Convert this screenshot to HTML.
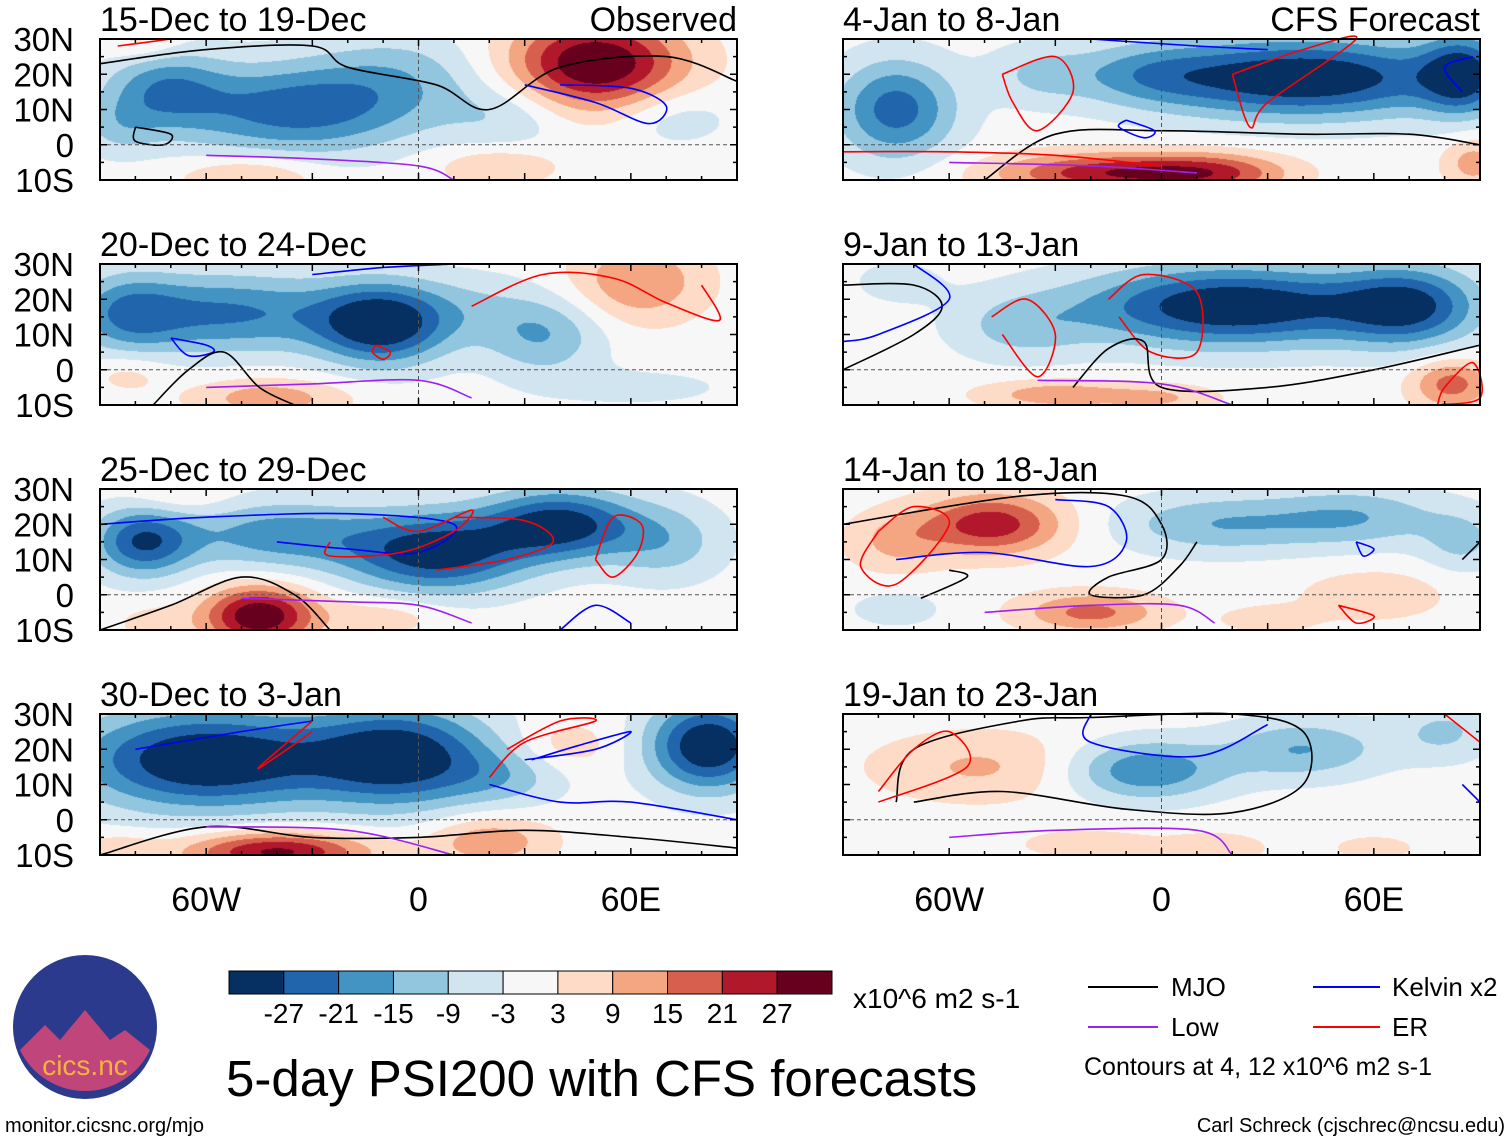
<!DOCTYPE html>
<html><head><meta charset="utf-8">
<style>
body{margin:0;background:#fff;width:1510px;height:1142px;overflow:hidden;font-family:"Liberation Sans",sans-serif;}
#fill{position:absolute;left:0;top:0;}
#ov{position:absolute;left:0;top:0;}
</style></head><body>
<canvas id="fill" width="1510" height="1142"></canvas>
<svg id="ov" width="1510" height="1142" xmlns="http://www.w3.org/2000/svg" font-family="Liberation Sans, sans-serif"></svg>
<script>
// ---- data ----
const panelTitles=["15-Dec to 19-Dec","20-Dec to 24-Dec","25-Dec to 29-Dec","30-Dec to 3-Jan","4-Jan to 8-Jan","9-Jan to 13-Jan","14-Jan to 18-Jan","19-Jan to 23-Jan"];
const latTicks=["30N","20N","10N","0","10S"];
const latVals=[30,20,10,0,-10];
const lonTicks=["60W","0","60E"];
const lonVals=[-60,0,60];
const levels=[-27,-21,-15,-9,-3,3,9,15,21,27];
const levelColors=["#053061","#2166ac","#4393c3","#92c5de","#d1e5f0","#f7f7f7","#fddbc7","#f4a582","#d6604d","#b2182b","#67001f"];
// blobs: [lon, lat, amplitude, sigmaLon, sigmaLat]
const blobs0=[[-35,10,-24,24,9],[-72,16,-17,12,8],[-5,20,-10,18,9],[25,8,-8,12,7],[50,23,34,17,9],[-48,-9,11,13,4],[22,-6,9,12,4],[-78,29,7,8,4],[72,8,-7,12,6],[-85,5,-8,8,6]];
const blobs1=[[-10,13,-32,13,8],[-55,16,-22,26,8],[-82,16,-13,10,8],[35,10,-15,12,8],[15,18,-6,12,7],[62,25,15,13,8],[-42,-8,13,15,4],[62,-5,-5,20,4],[-82,-1,6,8,4]];
const blobs2=[[-78,15,-26,10,7],[-40,17,-18,20,7],[5,12,-31,18,8],[40,20,-30,15,7],[70,15,-12,12,8],[-45,-6,33,11,6],[-10,-6,7,12,4],[-68,28,6,10,4],[-75,-8,5,8,4]];
const blobs3=[[-60,17,-35,26,10],[-5,18,-32,18,10],[82,21,-34,12,9],[25,12,-9,12,6],[-40,-9,29,18,4],[20,-6,14,12,5],[42,21,7,10,5],[-85,-8,7,8,3]];
const blobs4=[[-75,10,-24,12,10],[40,19,-34,32,8],[85,20,-24,8,8],[-15,-8,25,22,4],[15,-8,17,15,4],[88,-5,12,6,5],[-35,20,-8,10,6],[-5,20,-10,15,6]];
const blobs5=[[20,18,-34,30,8],[70,18,-25,14,8],[-40,12,-10,14,7],[82,-4,18,8,5],[-30,-7,13,15,3],[0,-8,9,12,3],[-75,25,-5,10,5]];
const blobs6=[[-48,20,25,14,6],[-75,15,10,10,6],[15,20,-14,20,6],[55,22,-14,18,6],[85,15,-10,8,6],[-20,-5,17,14,4],[60,0,8,14,5],[-75,-4,-6,10,4],[30,-7,6,10,3]];
const blobs7=[[-5,14,-21,16,6],[40,20,-15,16,6],[80,25,-10,10,6],[-50,15,10,22,7],[-20,-7,7,14,3],[15,-8,8,10,3],[60,-8,5,10,3]];
const allBlobs=[blobs0,blobs1,blobs2,blobs3,blobs4,blobs5,blobs6,blobs7];
// contour curves [type, [lon,lat,...]]
const curves0=[["mjo",[-90,23,-60,27,-30,28,-20,22,5,17,20,10,40,22,70,25,90,18]],["kelvin",[30,17,50,12,65,6,70,11,60,16,40,17]],["low",[-60,-3,-30,-4,0,-6,10,-10]],["er",[-85,28,-70,30]],["mjo",[-80,5,-70,3,-72,0,-80,1,-80,5]]];
const curves1=[["low",[-60,-5,-30,-4,0,-3,15,-8]],["kelvin",[-70,9,-60,7,-58,5,-65,4,-70,9]],["mjo",[-75,-10,-65,0,-55,5,-45,-5,-35,-10]],["er",[15,18,35,27,55,26,70,19,85,14,80,24]],["kelvin",[-30,27,-10,29,10,30]],["er",[-12,7,-8,5,-10,3,-13,5,-12,7]]];
const curves2=[["kelvin",[-90,20,-60,22,-20,23,10,20,0,12,-20,13,-40,15]],["er",[-10,22,0,18,15,24,10,18,-5,12,-25,11,-25,15]],["er",[10,22,30,21,38,15,25,10,5,7]],["er",[50,10,55,5,62,12,63,20,55,22,50,10]],["mjo",[-90,-10,-70,-3,-50,5,-35,0,-25,-10]],["low",[-50,-1,-20,-2,0,-3,15,-8]],["kelvin",[40,-10,50,-3,60,-8]]];
const curves3=[["kelvin",[-80,20,-50,25,-30,28]],["er",[-30,28,-45,15,-40,18,-30,25]],["mjo",[-90,-10,-60,-2,-30,-5,0,-5,30,-3,60,-5,90,-8]],["kelvin",[20,10,40,5,60,5,90,0]],["kelvin",[30,17,50,20,60,25,45,21,32,17]],["low",[-60,-2,-20,-3,10,-10]],["er",[25,20,40,28,50,28,30,22,20,12]]];
const curves4=[["er",[-45,20,-30,25,-25,15,-35,4,-42,12,-45,20]],["kelvin",[-20,30,10,28,30,27]],["er",[20,20,40,27,55,30,30,12,25,5,20,20]],["mjo",[-50,-10,-30,3,0,4,40,3,70,3,90,0]],["kelvin",[-10,7,-2,4,-5,2,-12,5,-10,7]],["low",[-60,-5,-20,-6,10,-8]],["er",[-90,-2,-60,-2,-30,-3,0,-6]],["kelvin",[85,15,80,22,88,25]]];
const curves5=[["mjo",[-90,24,-70,24,-62,18,-70,10,-90,0]],["er",[-48,15,-38,20,-30,10,-35,-2,-45,10]],["er",[-15,20,-5,27,10,22,10,5,-3,5,-12,15]],["mjo",[-25,-5,-15,6,-5,8,0,-5,30,-5,60,0,90,7]],["er",[78,-10,90,-8,88,2,80,-5,78,-10]],["low",[-35,-3,0,-4,20,-10]],["kelvin",[-70,30,-60,20,-80,10,-90,8]]];
const curves6=[["mjo",[-90,20,-40,28,-10,28,0,20,0,10,-15,5,-20,0,-5,0,5,8,10,15]],["kelvin",[-75,10,-50,12,-20,8,-10,15,-15,25,-30,27]],["er",[-80,18,-70,25,-60,20,-75,3,-85,8,-80,18]],["mjo",[-68,-1,-55,5,-60,7]],["low",[-50,-5,-20,-3,5,-3,15,-8]],["kelvin",[55,15,60,13,57,11,55,15]],["er",[50,-3,60,-6,55,-8,50,-3]],["mjo",[85,10,90,15]]];
const curves7=[["mjo",[-75,5,-70,20,-40,28,-20,29,20,30,40,25,40,10,20,2,-10,3,-45,8,-70,5]],["er",[-80,8,-70,20,-60,25,-55,15,-80,5]],["kelvin",[-20,30,-20,22,10,18,30,27]],["low",[-60,-5,-30,-3,10,-3,20,-10]],["er",[80,30,90,22]],["kelvin",[85,10,90,5]]];
const allCurves=[curves0,curves1,curves2,curves3,curves4,curves5,curves6,curves7];

// ---- layout ----
const colX=[100,843], W=637, rowY=[39,264,489,714], H=141;
const curveColor={mjo:"#000",kelvin:"#0000ff",low:"#a020f0",er:"#ff0000"};
function xs(p,lon){return colX[Math.floor(p/4)]+(lon+90)/180*W;}
function ys(p,lat){return rowY[p%4]+(30-lat)/40*H;}
function levelIndex(v){let i=0;while(i<levels.length&&v>=levels[i])i++;return i;}

const ctx=document.getElementById('fill').getContext('2d');
const svg=document.getElementById('ov');
const NS="http://www.w3.org/2000/svg";
function mk(tag,attrs,parent){const e=document.createElementNS(NS,tag);for(const k in attrs)e.setAttribute(k,attrs[k]);(parent||svg).appendChild(e);return e;}
function smoothPath(pts){
  const P=[];for(let i=0;i<pts.length;i+=2)P.push(pts.slice(i,i+2));
  let d="M"+P[0][0].toFixed(1)+","+P[0][1].toFixed(1);
  for(let i=0;i<P.length-1;i++){
    const p0=P[Math.max(i-1,0)],p1=P[i],p2=P[i+1],p3=P[Math.min(i+2,P.length-1)];
    const c1=[p1[0]+(p2[0]-p0[0])/6,p1[1]+(p2[1]-p0[1])/6];
    const c2=[p2[0]-(p3[0]-p1[0])/6,p2[1]-(p3[1]-p1[1])/6];
    d+="C"+c1.map(v=>v.toFixed(1)).join(",")+" "+c2.map(v=>v.toFixed(1)).join(",")+" "+p2[0].toFixed(1)+","+p2[1].toFixed(1);
  }
  return d;
}

for(let p=0;p<8;p++){
  const x0=colX[Math.floor(p/4)], y0=rowY[p%4], b=allBlobs[p];
  const step=1;
  for(let px=0;px<W;px+=step){
    const lon=-90+(px+0.5)/W*180;
    for(let py=0;py<H;py+=step){
      const lat=30-(py+0.5)/H*40;
      let v=0;
      for(const q of b){const dx=(lon-q[0])/q[3],dy=(lat-q[1])/q[4];v+=q[2]*Math.exp(-0.5*(dx*dx+dy*dy));}
      ctx.fillStyle=levelColors[levelIndex(v)];
      ctx.fillRect(x0+px,y0+py,step,step);
    }
  }
  const g=mk('g',{});
  
  
  for(const c of allCurves[p]){
    const pts=c[1],sp=[];
    for(let i=0;i<pts.length;i+=2){sp.push(xs(p,pts[i]),ys(p,pts[i+1]));}
    const path=mk('path',{d:smoothPath(sp),fill:"none",stroke:curveColor[c[0]],"stroke-width":1.6,"stroke-linejoin":"round"},g);
    
    
  }
  mk('line',{x1:x0,x2:x0+W,y1:ys(p,0),y2:ys(p,0),stroke:"#555","stroke-dasharray":"4,3","stroke-width":1},g);
  mk('line',{x1:xs(p,0),x2:xs(p,0),y1:y0,y2:y0+H,stroke:"#555","stroke-dasharray":"4,3","stroke-width":1},g);
  const fr=mk('rect',{x:x0,y:y0,width:W,height:H,fill:"none",stroke:"#000","stroke-width":2},g);
  
  
  for(let lon=-90;lon<=90;lon+=10){const x=xs(p,lon),L=lon%30===0?7:4;
    mk('line',{x1:x,x2:x,y1:y0,y2:y0+L,stroke:"#000","stroke-width":1.5},g);
    mk('line',{x1:x,x2:x,y1:y0+H,y2:y0+H-L,stroke:"#000","stroke-width":1.5},g);}
  for(let lat=-10;lat<=30;lat+=5){const y=ys(p,lat),L=lat%10===0?7:4;
    mk('line',{x1:x0,x2:x0+L,y1:y,y2:y,stroke:"#000","stroke-width":1.5},g);
    mk('line',{x1:x0+W,x2:x0+W-L,y1:y,y2:y,stroke:"#000","stroke-width":1.5},g);}
  const t=mk('text',{x:x0,y:y0-8,"font-size":34},g);t.textContent=panelTitles[p];
  
  
  if(p%4===0){const s=mk('text',{x:x0+W,y:y0-8,"font-size":34,"text-anchor":"end"},g);s.textContent=p===0?"Observed":"CFS Forecast";
    
    }
  if(p<4){for(let i=0;i<latTicks.length;i++){const l=mk('text',{x:74,y:ys(p,latVals[i])+12,"font-size":33,"text-anchor":"end"},g);l.textContent=latTicks[i];
    
    }}
  if(p%4===3){for(let i=0;i<lonTicks.length;i++){const l=mk('text',{x:xs(p,lonVals[i]),y:911,"font-size":34,"text-anchor":"middle"},g);l.textContent=lonTicks[i];
    
    }}
}
const cb=mk('g',{});


const cbx=229,cbw=603/levelColors.length;
levelColors.forEach((c,i)=>{const r=mk('rect',{x:cbx+i*cbw,y:971,width:cbw,height:23,fill:c,stroke:"#000","stroke-width":1},cb);
  
  });
levels.forEach((v,i)=>{const t=mk('text',{x:cbx+(i+1)*cbw,y:1023,"font-size":28,"text-anchor":"middle"},cb);t.textContent=v;
  
  });
</script>
<svg width="1510" height="1142" style="position:absolute;left:0;top:0" font-family="Liberation Sans, sans-serif">
 <text x="853" y="1008" font-size="28">x10^6 m2 s-1</text>
 <text x="226" y="1096" font-size="51">5-day PSI200 with CFS forecasts</text>
 <g>
  <line x1="1088" x2="1158" y1="987" y2="987" stroke="#000" stroke-width="2"/><text x="1171" y="996" font-size="26">MJO</text>
  <line x1="1313" x2="1380" y1="987" y2="987" stroke="#00f" stroke-width="2"/><text x="1392" y="996" font-size="26">Kelvin x2</text>
  <line x1="1088" x2="1158" y1="1027" y2="1027" stroke="#a020f0" stroke-width="2"/><text x="1171" y="1036" font-size="26">Low</text>
  <line x1="1313" x2="1380" y1="1027" y2="1027" stroke="#f00" stroke-width="2"/><text x="1392" y="1036" font-size="26">ER</text>
  <text x="1084" y="1075" font-size="25">Contours at 4, 12 x10^6 m2 s-1</text>
 </g>
 <g>
  <circle cx="85" cy="1027" r="72" fill="#2b3a8c"/>
  <path d="M20,1050 L45,1025 L60,1040 L85,1010 L110,1040 L125,1030 L150,1050 A72,72 0 0 1 20,1050Z" fill="#c0457a"/>
  <text x="85" y="1075" font-size="28" fill="#f2b43c" text-anchor="middle">cics.nc</text>
 </g>
 <text x="5" y="1132" font-size="20">monitor.cicsnc.org/mjo</text>
 <text x="1505" y="1132" font-size="20" text-anchor="end">Carl Schreck (cjschrec@ncsu.edu)</text>
</svg>
</body></html>
